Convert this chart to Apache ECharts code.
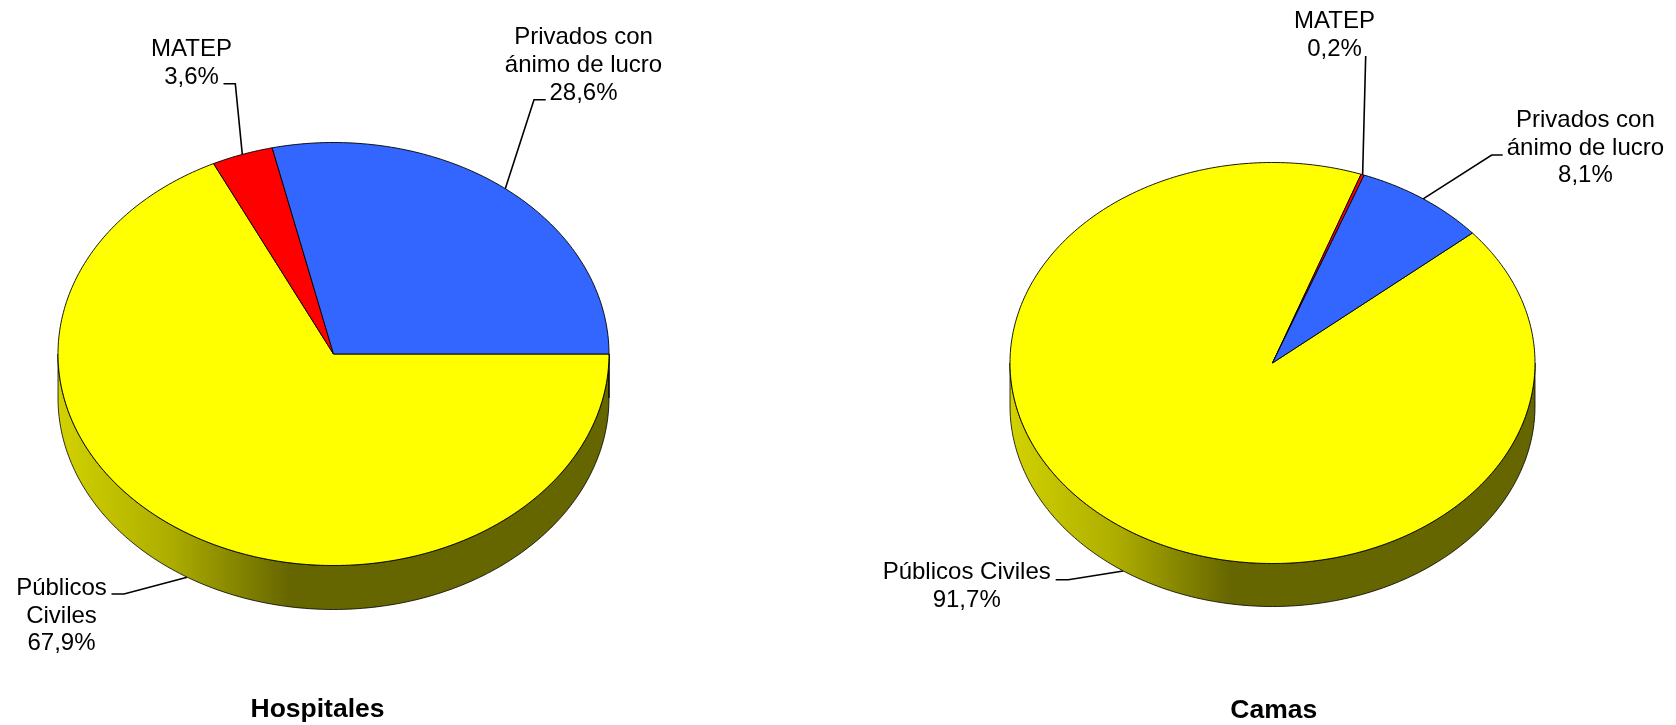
<!DOCTYPE html>
<html>
<head>
<meta charset="utf-8">
<style>html,body{margin:0;padding:0;background:#fff}#c{width:1676px;height:725px}</style>
<script src="https://cdn.jsdelivr.net/npm/echarts@6/dist/echarts.min.js"></script>
</head>
<body>
<div id="c"></div>
<script>
const categories = ['Públicos Civiles', 'MATEP', 'Privados con ánimo de lucro'];
const colors = ['#FFFF00', '#FF0000', '#3366FF'];
const hospitalesValues = [67.9, 3.6, 28.6];
const camasValues = [91.7, 0.2, 8.1];
const hospitalesLines = [['Públicos', 'Civiles'], ['MATEP'], ['Privados con', 'ánimo de lucro']];
const camasLines = [['Públicos Civiles'], ['MATEP'], ['Privados con', 'ánimo de lucro']];
const pieTitles = ['Hospitales', 'Camas'];

const FONT = '"Liberation Sans", Arial, sans-serif';
const LABEL_SIZE = 24, LINE_H = 27.9;
const pies = [
  { name: pieTitles[0], values: hospitalesValues, lines: hospitalesLines, cx: 333.5, cy: 354, rx: 275.5, ry: 211.5, depth: 44, start: 0,
    titleX: 317.5, titleY: 710,
    labels: [
      { x: 61.5, y: 588, elbow: [[111.5, 594], [124, 594]] },
      { x: 191.5, y: 49.7, elbow: [[223.5, 83.7], [235.3, 83.7]] },
      { x: 583.5, y: 37.3, elbow: [[545.7, 99.7], [534, 99.7]] }
    ] },
  { name: pieTitles[1], values: camasValues, lines: camasLines, cx: 1272.5, cy: 363, rx: 262.5, ry: 200.5, depth: 43, start: -40.4,
    titleX: 1273.8, titleY: 711,
    labels: [
      { x: 966.7, y: 572, elbow: [[1055.7, 579.7], [1068.3, 579.7]] },
      { x: 1334.5, y: 21.8, elbow: [[1365.7, 56]] },
      { x: 1585.4, y: 120, elbow: [[1502.7, 155], [1491.7, 155]] }
    ] }
];

function pt(p, deg, dy) {
  const a = deg * Math.PI / 180;
  return [p.cx + p.rx * Math.cos(a), p.cy + p.ry * Math.sin(a) + (dy || 0)];
}
function arc(p, a0, a1, dy) {
  const n = Math.max(2, Math.ceil(Math.abs(a1 - a0) / 1));
  const out = [];
  for (let i = 0; i <= n; i++) out.push(pt(p, a0 + (a1 - a0) * i / n, dy));
  return out;
}
function lowerOverlap(a0, a1) {
  const res = [];
  for (const k of [-360, 0, 360]) {
    const s = Math.max(a0, k), e = Math.min(a1, k + 180);
    if (e > s) res.push([s, e]);
  }
  return res;
}
function sliceAngles(p) {
  const total = p.values.reduce((s, v) => s + v, 0);
  let cur = p.start;
  return p.values.map(v => { const a = cur; cur += v / total * 360; return [a, cur]; });
}
function makeSeries(p) {
  const angles = sliceAngles(p);
  const rimFill = new echarts.graphic.LinearGradient(p.cx - p.rx, 0, p.cx + p.rx, 0, [
    { offset: 0, color: '#D2D200' }, { offset: 0.2, color: '#AEAE00' },
    { offset: 0.42, color: '#666600' }, { offset: 1, color: '#666600' }
  ], true);
  return {
    type: 'custom',
    name: p.name,
    coordinateSystem: 'none',
    silent: true,
    animation: false,
    data: p.values.map((v, i) => ({ name: categories[i], value: [i, v] })),
    renderItem: function (params, api) {
      const i = api.value(0);
      const [a0, a1] = angles[i];
      const children = [];
      const mid = (a0 + a1) / 2;
      const norm = ((mid % 360) + 360) % 360;
      const anchor = pt(p, mid, norm > 0 && norm < 180 ? p.depth : 0);
      const lab = p.labels[i];
      children.push({
        type: 'polyline', z2: 0,
        shape: { points: lab.elbow.concat([anchor]) },
        style: { fill: null, stroke: '#000', lineWidth: 1.6 }
      });
      lowerOverlap(a0, a1).forEach(([s, e]) => {
        children.push({
          type: 'polygon', z2: 1,
          shape: { points: arc(p, s, e, 0).concat(arc(p, e, s, p.depth)) },
          style: { fill: rimFill, stroke: '#000', lineWidth: 0.8 }
        });
      });
      children.push({
        type: 'polygon', z2: 2,
        shape: { points: [[p.cx, p.cy]].concat(arc(p, a0, a1, 0)) },
        style: { fill: colors[i], stroke: '#000', lineWidth: 0.9, lineJoin: 'round' }
      });
      const lines = p.lines[i].concat([String(api.value(1)).replace('.', ',') + '%']);
      lines.forEach((t, k) => {
        children.push({
          type: 'text', z2: 4,
          x: lab.x, y: lab.y + k * LINE_H,
          style: { text: t, fill: '#000', font: LABEL_SIZE + 'px ' + FONT, align: 'center', verticalAlign: 'middle' }
        });
      });
      return { type: 'group', children };
    }
  };
}

const chart = echarts.init(document.getElementById('c'), null, { renderer: 'canvas' });
chart.setOption({
  animation: false,
  backgroundColor: '#fff',
  title: pies.map(p => ({
    text: p.name, left: p.titleX, top: p.titleY, textAlign: 'center', textVerticalAlign: 'middle',
    padding: 0,
    textStyle: { fontFamily: FONT, fontSize: 26.5, fontWeight: 'bold', color: '#000' }
  })),
  series: pies.map(makeSeries)
});
</script>
</body>
</html>
